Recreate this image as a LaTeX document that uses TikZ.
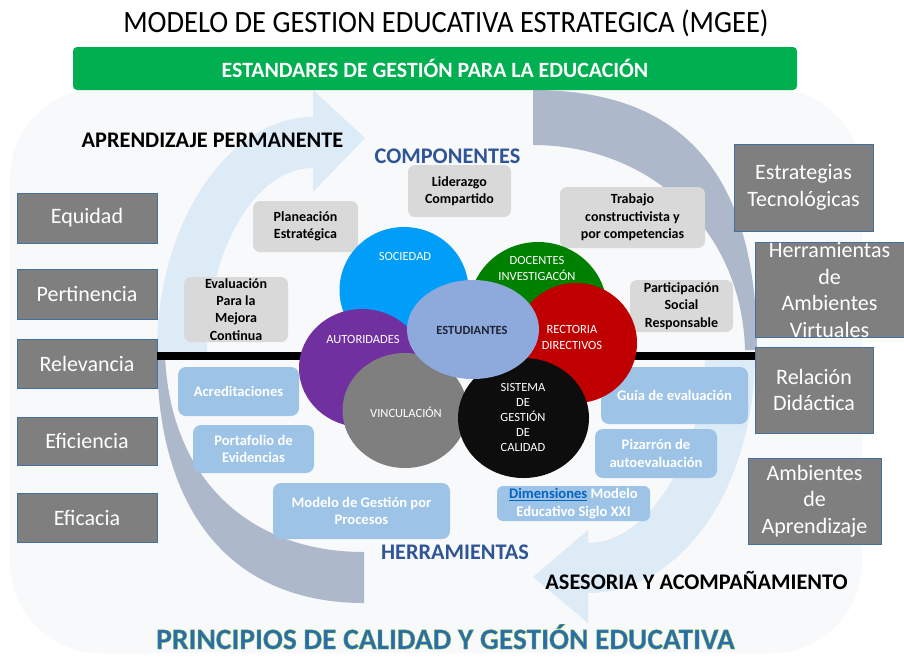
\documentclass[tikz,border=0pt]{standalone}
\usepackage{fontspec}
\usepackage{graphicx}
\setmainfont{Carlito}
\usetikzlibrary{shapes.geometric}
\definecolor{bgc}{RGB}{248,249,250}
\definecolor{lblue}{RGB}{221,235,247}
\definecolor{garc}{RGB}{173,185,202}
\definecolor{gbar}{RGB}{0,176,80}
\definecolor{boxg}{RGB}{127,127,127}
\definecolor{boxb}{RGB}{65,113,156}
\definecolor{smallg}{RGB}{217,217,217}
\definecolor{smallb}{RGB}{157,195,230}
\definecolor{dblue}{RGB}{47,85,151}
\definecolor{cSoc}{RGB}{0,158,248}
\definecolor{cDoc}{RGB}{0,128,0}
\definecolor{cRec}{RGB}{192,0,0}
\definecolor{cAut}{RGB}{112,48,160}
\definecolor{cVin}{RGB}{127,127,127}
\definecolor{cSis}{RGB}{13,13,13}
\definecolor{cEst}{RGB}{142,169,219}
\definecolor{cEstT}{RGB}{30,35,55}
\definecolor{linkb}{RGB}{5,99,193}
\definecolor{princ}{RGB}{40,108,175}
\newcommand{\outlinedtext}[1]{\special{pdf:literal direct 0.44 0.68 0.28 RG 0.45 w 2 Tr}#1\special{pdf:literal direct 0 Tr}}
\begin{document}
\begin{tikzpicture}[x=1pt,y=-1pt,
  sidebox/.style={draw=boxb, line width=0.8pt, fill=boxg, text=white,
    font=\fontsize{22}{26.5}\selectfont, align=center, inner sep=0pt},
  greybox/.style={fill=smallg, rounded corners=7pt, text=black,
    font=\bfseries\fontsize{14}{17.5}\selectfont, align=center, inner sep=0pt},
  bluebox/.style={fill=smallb, rounded corners=8pt, text=white,
    font=\bfseries\fontsize{14.6}{17.5}\selectfont, align=center, inner sep=0pt},
  blob/.style={ellipse, inner sep=0pt},
  blobtext/.style={text=white, font=\fontsize{12.5}{14.8}\selectfont, align=center, inner sep=0pt},
  headtext/.style={font=\bfseries\fontsize{22.3}{26}\selectfont, inner sep=0pt}
]
\useasboundingbox (0,0) rectangle (904,657);
% background panel
\fill[bgc, rounded corners=90pt] (10,88) rectangle (862,653);

% cycle arrows
\fill[lblue] (157,352) .. controls (157,220) and (230,117) .. (313,117)
  -- (313,90) -- (365,138) -- (313,192) -- (313,168)
  .. controls (255,168) and (207,250) .. (207,352) -- cycle;
\fill[lblue] (755,352) .. controls (755,490) and (680,593) .. (588,593)
  -- (588,623) -- (533,577) -- (588,530) -- (588,543)
  .. controls (650,543) and (705,450) .. (705,352) -- cycle;
\fill[garc] (533,90) .. controls (680,90) and (757,170) .. (757,350)
  -- (745,350) .. controls (742,230) and (650,145) .. (533,145) -- cycle;
\fill[garc] (157,355) .. controls (157,510) and (230,603) .. (364,603)
  -- (364,552) .. controls (250,552) and (170,480) .. (165,355) -- cycle;

% title and green bar
\node[inner sep=0pt] (title) at (446,23)
  {\scalebox{0.92}[1]{\fontsize{31}{36}\selectfont MODELO DE GESTION EDUCATIVA ESTRATEGICA (MGEE)}};
\node[fill=gbar, rounded corners=4pt, minimum width=724pt, minimum height=43pt, inner sep=0pt,
  text=white, font=\bfseries\fontsize{21.8}{24}\selectfont] (bar) at (435,68.5)
  {ESTANDARES DE GESTIÓN PARA LA EDUCACIÓN};

% left boxes
\node[sidebox, minimum width=140pt, minimum height=50pt] (equ) at (87,218) {Equidad};
\node[sidebox, minimum width=140pt, minimum height=50pt] (per) at (87,294) {Pertinencia};
\node[sidebox, minimum width=140pt, minimum height=49pt] (rel) at (87,363.5) {Relevancia};
\node[sidebox, minimum width=140pt, minimum height=48pt] (efi) at (87,441) {Eficiencia};
\node[sidebox, minimum width=140pt, minimum height=49pt] (efc) at (87,517.5) {Eficacia};

% right boxes
\node[sidebox, minimum width=139pt, minimum height=87pt] (est) at (803.5,187.5) {Estrategias\\Tecnológicas};
\node[sidebox, minimum width=149pt, minimum height=94pt] (her) at (829.5,290) {Herramientas\\de\\Ambientes\\Virtuales};
\node[sidebox, minimum width=118pt, minimum height=86pt] (rdi) at (814,390) {Relación\\Didáctica};
\node[sidebox, minimum width=133pt, minimum height=86pt] (amb) at (814.5,501) {Ambientes\\de\\Aprendizaje};

% horizontal bar
\coordinate (hl) at (157,356);
\coordinate (hr) at (755,356);
\draw[line width=8pt] (hl) -- (hr);

% grey component boxes
\node[greybox, minimum width=103pt, minimum height=52pt] (lid) at (459.5,191) {Liderazgo\\Compartido};
\node[greybox, minimum width=105pt, minimum height=51pt] (pla) at (305.5,226.5) {Planeación\\Estratégica};
\node[greybox, minimum width=104pt, minimum height=65pt, font=\bfseries\fontsize{14}{17.2}\selectfont] (eva) at (236,309.5) {Evaluación\\Para la\\Mejora\\Continua};
\node[greybox, minimum width=145pt, minimum height=61pt] (tra) at (632.5,217.5) {Trabajo\\constructivista y\\por competencias};
\node[greybox, minimum width=103pt, minimum height=52pt] (par) at (681.5,306) {Participación\\Social\\Responsable};

% blue tool boxes
\node[bluebox, minimum width=121pt, minimum height=49pt] (acr) at (238.5,391.5) {Acreditaciones};
\node[bluebox, minimum width=121pt, minimum height=48pt] (por) at (253.5,449) {Portafolio de\\Evidencias};
\node[bluebox, minimum width=177pt, minimum height=56pt] (mod) at (361.5,511) {Modelo de Gestión por\\Procesos};
\node[bluebox, minimum width=147pt, minimum height=57pt] (gui) at (674.5,395.5) {Guía de evaluación};
\node[bluebox, minimum width=122pt, minimum height=49pt] (piz) at (656,453.5) {Pizarrón de\\autoevaluación};
\node[bluebox, minimum width=153pt, minimum height=35pt, rounded corners=6pt] (dim) at (573.5,503.5)
  {{\color{linkb}\underline{Dimensiones}} Modelo\\Educativo Siglo XXI};

% circles
\node[blob, fill=cSoc, minimum width=129pt, minimum height=126pt] (soc) at (404,290) {};
\node[blob, fill=cDoc, minimum width=138pt, minimum height=134pt] (doc) at (538,309) {};
\node[blob, fill=cRec, minimum width=122pt, minimum height=120pt] (rec) at (576,343) {};
\node[blob, fill=cAut, minimum width=126pt, minimum height=118pt] (aut) at (362,368) {};
\node[blob, fill=cVin, minimum width=125pt, minimum height=115pt] (vin) at (405,410.5) {};
\node[blob, fill=cSis, minimum width=131pt, minimum height=120pt] (sis) at (523.5,418) {};
\node[blob, fill=cEst, minimum width=132pt, minimum height=99pt] (stu) at (473,329.5) {};

\node[blobtext] (soct) at (405,256) {SOCIEDAD};
\node[blobtext, font=\fontsize{12.5}{16}\selectfont] (doct) at (537,268) {DOCENTES\\INVESTIGACÓN};
\node[blobtext, font=\fontsize{12.5}{16}\selectfont] (rect) at (572,337) {RECTORIA\\DIRECTIVOS};
\node[blobtext] (autt) at (363,339) {AUTORIDADES};
\node[blobtext] (vint) at (406,412) {VINCULACIÓN};
\node[blobtext] (sist) at (523,417.5) {SISTEMA\\DE\\GESTIÓN\\DE\\CALIDAD};
\node[blobtext, text=cEstT, font=\bfseries\fontsize{12.5}{15}\selectfont] (stut) at (472,330) {ESTUDIANTES};

% section labels
\node[headtext] (apr) at (212.5,140) {APRENDIZAJE PERMANENTE};
\node[headtext, text=dblue] (com) at (447.5,156) {COMPONENTES};
\node[headtext, text=dblue] (hrr) at (455,552) {HERRAMIENTAS};
\node[headtext] (ase) at (696.5,580) {ASESORIA Y ACOMPAÑAMIENTO};
\node[inner sep=0pt, anchor=base, text=princ, font=\bfseries\fontsize{29.5}{34}\selectfont] (pri) at (445.5,649)
  {\outlinedtext{PRINCIPIOS DE CALIDAD Y GESTIÓN EDUCATIVA}};
\end{tikzpicture}
\end{document}
